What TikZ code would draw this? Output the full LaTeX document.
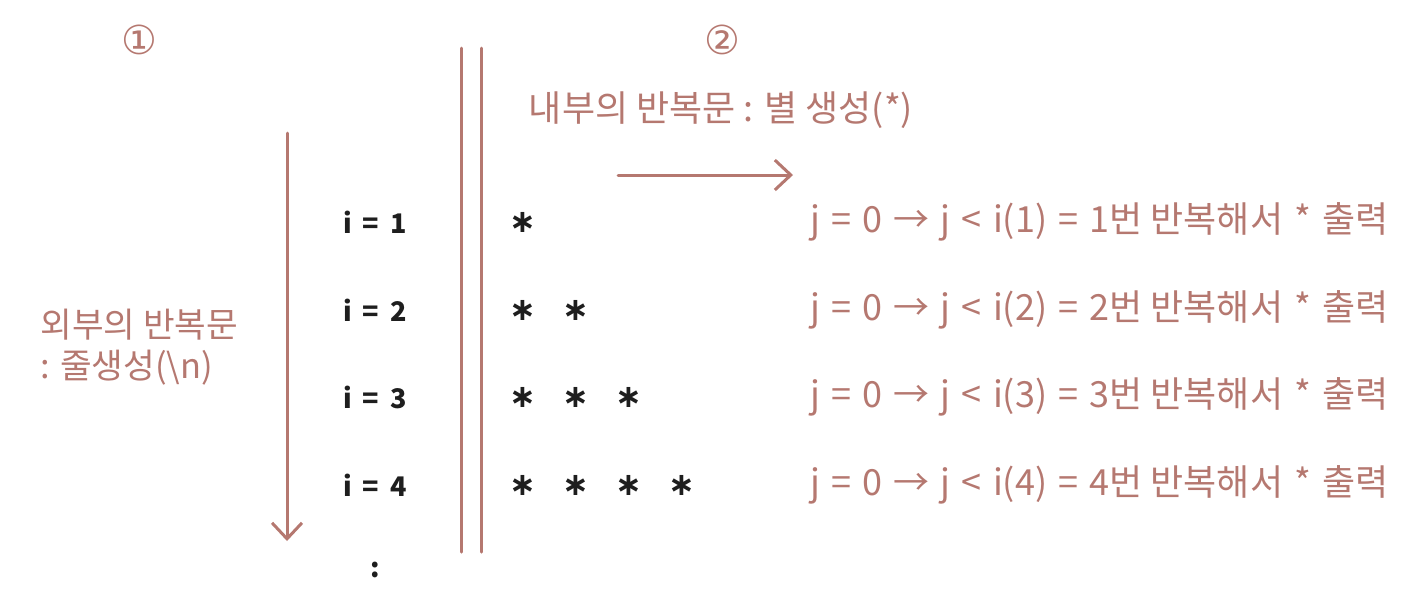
\documentclass[tikz,border=0pt]{standalone}
\usepackage{fontspec}
\setmainfont{Noto Sans CJK KR}
\newfontfamily\kr{Noto Sans CJK KR}
\newfontfamily\sym{DejaVu Sans}
\usetikzlibrary{arrows.meta}
\definecolor{brn}{RGB}{181,120,112}
\definecolor{ink}{RGB}{30,30,30}
\tikzset{
  brline/.style={draw=brn, line width=1.5pt, line cap=round},
  brarrow/.style={brline, -{Straight Barb[length=8pt,width=15pt,line width=1.5pt]}},
  brtext/.style={text=brn, font=\kr\fontsize{18}{21}\selectfont, inner sep=0pt},
  sidetext/.style={brtext, font=\kr\fontsize{17.2}{20}\selectfont, anchor=west},
  rowtext/.style={brtext, anchor=west},
  ivar/.style={text=ink, font=\kr\bfseries\fontsize{13.5}{16}\selectfont, inner sep=0pt},
  star/.style={text=ink, font=\sym\bfseries\fontsize{16}{16}\selectfont, inner sep=0pt},
  circnum/.style={text=brn, font=\sym\fontsize{20}{20}\selectfont, inner sep=0pt}
}
\newcommand{\gapsp}{\hspace{0.31em}}
\begin{document}
\begin{tikzpicture}[x=0.5pt,y=-0.5pt]
\useasboundingbox (0,0) rectangle (1407,607);
% circled numbers
\node[circnum] (n1) at (139,40) {①};
\node[circnum] (n2) at (722,40) {②};
% outer arrow
\coordinate (oa) at (287,133);
\coordinate (ob) at (287,541);
\draw[brarrow] (oa) -- (ob);
% double lines
\coordinate (d1t) at (461,48); \coordinate (d1b) at (461,552);
\coordinate (d2t) at (481,48); \coordinate (d2b) at (481,552);
\draw[brline] (d1t) -- (d1b);
\draw[brline] (d2t) -- (d2b);
% outer label
\node[sidetext] (outer1) at (40,325) {외부의 반복문};
\node[sidetext] (outer2) at (40,368) {: 줄생성(\textbackslash n)};
% inner label
\node[brtext] (inner) at (721,110) {내부의 반복문 : 별 생성(*)};
\coordinate (ia) at (618,175);
\coordinate (ib) at (793,175);
\draw[brarrow] (ia) -- (ib);
% i values
\node[ivar] (i1) at (375,222) {i\hspace{0.4em}=\hspace{0.4em}1};
\node[ivar] (i2) at (375,310) {i\hspace{0.4em}=\hspace{0.4em}2};
\node[ivar] (i3) at (375,397) {i\hspace{0.4em}=\hspace{0.4em}3};
\node[ivar] (i4) at (375,485) {i\hspace{0.4em}=\hspace{0.4em}4};
\node[ivar] (idots) at (375,570) {:};
% stars
\node[star] (s11) at (523,222) {∗};
\node[star] (s21) at (523,310) {∗};
\node[star] (s22) at (576,310) {∗};
\node[star] (s31) at (523,397) {∗};
\node[star] (s32) at (576,397) {∗};
\node[star] (s33) at (629,397) {∗};
\node[star] (s41) at (523,485) {∗};
\node[star] (s42) at (576,485) {∗};
\node[star] (s43) at (629,485) {∗};
\node[star] (s44) at (682,485) {∗};
% row texts
\node[rowtext] (r1) at (810,222) {j\gapsp{}=\gapsp{}0\gapsp{}→\gapsp{}j\gapsp{}<\gapsp{}i(1)\gapsp{}=\gapsp{}1번 반복해서\gapsp{}*\gapsp{}출력};
\node[rowtext] (r2) at (810,310) {j\gapsp{}=\gapsp{}0\gapsp{}→\gapsp{}j\gapsp{}<\gapsp{}i(2)\gapsp{}=\gapsp{}2번 반복해서\gapsp{}*\gapsp{}출력};
\node[rowtext] (r3) at (810,397) {j\gapsp{}=\gapsp{}0\gapsp{}→\gapsp{}j\gapsp{}<\gapsp{}i(3)\gapsp{}=\gapsp{}3번 반복해서\gapsp{}*\gapsp{}출력};
\node[rowtext] (r4) at (810,485) {j\gapsp{}=\gapsp{}0\gapsp{}→\gapsp{}j\gapsp{}<\gapsp{}i(4)\gapsp{}=\gapsp{}4번 반복해서\gapsp{}*\gapsp{}출력};
\end{tikzpicture}
\end{document}
